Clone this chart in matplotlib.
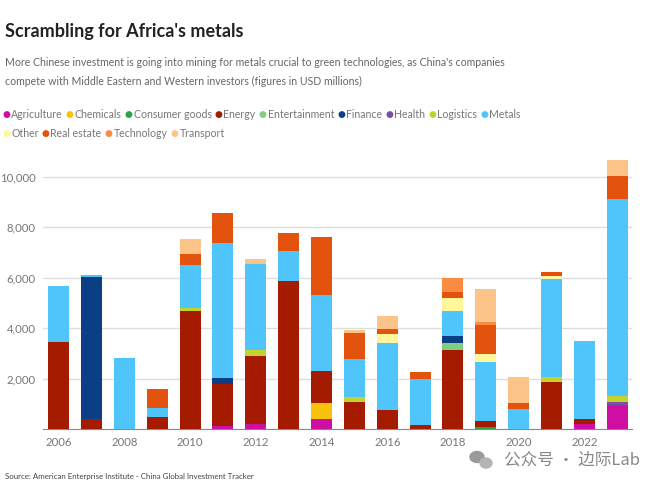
import numpy as np
import matplotlib.pyplot as plt
from matplotlib.patches import Ellipse
from matplotlib.ticker import FuncFormatter

years = list(range(2006, 2024))

# values in USD millions (bottom to top stacking order)
agriculture   = [0, 0, 0, 0, 0, 120, 210, 0, 410, 0, 0, 0, 0, 0, 0, 0, 180, 950]
chemicals     = [0, 0, 0, 0, 0, 0, 0, 0, 610, 0, 0, 0, 0, 0, 0, 0, 0, 0]
consumer      = [0, 0, 0, 0, 0, 0, 0, 0, 0, 0, 0, 0, 0, 90, 0, 0, 0, 0]
energy        = [3460, 400, 0, 460, 4680, 1660, 2700, 5870, 1290, 1070, 770, 160, 3140, 210, 0, 1850, 200, 0]
entertainment = [0, 0, 0, 0, 0, 0, 0, 0, 0, 0, 0, 0, 260, 0, 0, 0, 0, 0]
finance       = [0, 5610, 0, 0, 0, 240, 0, 0, 0, 0, 0, 0, 300, 0, 0, 0, 0, 0]
health        = [0, 0, 0, 0, 0, 0, 0, 0, 0, 0, 0, 0, 0, 0, 0, 0, 0, 110]
logistics     = [0, 0, 0, 0, 130, 0, 210, 0, 0, 200, 0, 0, 0, 0, 0, 220, 0, 260]
metals        = [2210, 80, 2830, 390, 1680, 5360, 3420, 1200, 3010, 1500, 2650, 1820, 960, 2340, 780, 3860, 3110, 7800]
other         = [0, 0, 0, 0, 0, 0, 0, 0, 0, 0, 340, 0, 540, 320, 0, 130, 0, 0]
real_estate   = [0, 0, 0, 720, 460, 1190, 0, 710, 2300, 1030, 200, 280, 240, 1160, 240, 180, 0, 890]
technology    = [0, 0, 0, 0, 0, 0, 0, 0, 0, 0, 0, 0, 560, 130, 0, 0, 0, 0]
transport     = [0, 0, 0, 0, 590, 0, 180, 0, 0, 110, 530, 0, 0, 1280, 1030, 0, 0, 640]

sectors = [
    ("Agriculture", agriculture, "#cf0fa3"),
    ("Chemicals", chemicals, "#f9c20a"),
    ("Consumer goods", consumer, "#27a34f"),
    ("Energy", energy, "#a51b00"),
    ("Entertainment", entertainment, "#80cf80"),
    ("Finance", finance, "#0c3e85"),
    ("Health", health, "#7a4ea6"),
    ("Logistics", logistics, "#c2d42c"),
    ("Metals", metals, "#4fc5fb"),
    ("Other", other, "#fff79a"),
    ("Real estate", real_estate, "#e4530e"),
    ("Technology", technology, "#f98b42"),
    ("Transport", transport, "#fdc489"),
]

plt.rcParams['font.family'] = ['Lato', 'DejaVu Sans']

W, H = 660, 486
fig = plt.figure(figsize=(W / 100, H / 100), dpi=100)
ax = fig.add_axes([0.065, 0.1173, 0.8926, 0.5555])

bottom = np.zeros(len(years))
for name, vals, col in sectors:
    vals = np.array(vals, dtype=float)
    ax.bar(years, vals, bottom=bottom, width=0.64, color=col, linewidth=0, zorder=3)
    bottom += vals

ax.set_xlim(2006 - 0.48, 2023 + 0.45)
ax.set_ylim(0, 10700)
ax.set_yticks([2000, 4000, 6000, 8000, 10000])
ax.yaxis.set_major_formatter(FuncFormatter(lambda v, p: f"{int(v):,}"))
ax.set_xticks(range(2006, 2023, 2))
ax.grid(axis='y', color='#dddddd', linewidth=1, zorder=0)
for s in ['top', 'right', 'left']:
    ax.spines[s].set_visible(False)
ax.spines['bottom'].set_color('#888888')
ax.tick_params(axis='both', length=0, labelsize=8.2, colors='#777777')
ax.tick_params(axis='y', pad=5)
ax.tick_params(axis='x', pad=6)

# title / subtitle
fig.text(5 / W, 1 - 31 / H, "Scrambling for Africa's metals", fontsize=13, fontweight='bold',
         color='#222222', va='center')
fig.text(5 / W, 1 - 63 / H, "More Chinese investment is going into mining for metals crucial to green technologies, as China's companies",
         fontsize=7.6, color='#666666', va='center')
fig.text(5 / W, 1 - 81 / H, "compete with Middle Eastern and Western investors (figures in USD millions)",
         fontsize=7.6, color='#666666', va='center')

# legend: dots + labels laid out left to right, wrapping after Metals
renderer = fig.canvas.get_renderer()
x, y = 6, 115
for name, vals, col in sectors:
    if name == "Other":
        x, y = 6, 133
    fig.text(x / W, 1 - y / H, "\u25CF", color=col, fontsize=6.5, va='center', ha='center',
             family=['DejaVu Sans'])
    t = fig.text((x + 5) / W, 1 - y / H, name, color='#777777', fontsize=7.6, va='center')
    x += 5 + t.get_window_extent(renderer).width + 7

fig.text(5 / W, 1 - 476 / H, "Source: American Enterprise Institute - China Global Investment Tracker",
         fontsize=5.7, color='#444444', va='center')

# watermark with a small chat-bubble icon
fig.patches.append(Ellipse((477 / W, 1 - 457 / H), 14 / W, 11 / H, color='#9a9a9a',
                           transform=fig.transFigure, figure=fig))
fig.patches.append(Ellipse((486 / W, 1 - 463 / H), 12 / W, 10 / H, color='#b5b5b5',
                           transform=fig.transFigure, figure=fig))
fig.text(640 / W, 1 - 460 / H, "公众号 · 边际Lab", fontsize=12, color='#888888', va='center', ha='right',
         family=['Noto Sans CJK SC', 'DejaVu Sans'])

fig.savefig("out.png", dpi=100)
